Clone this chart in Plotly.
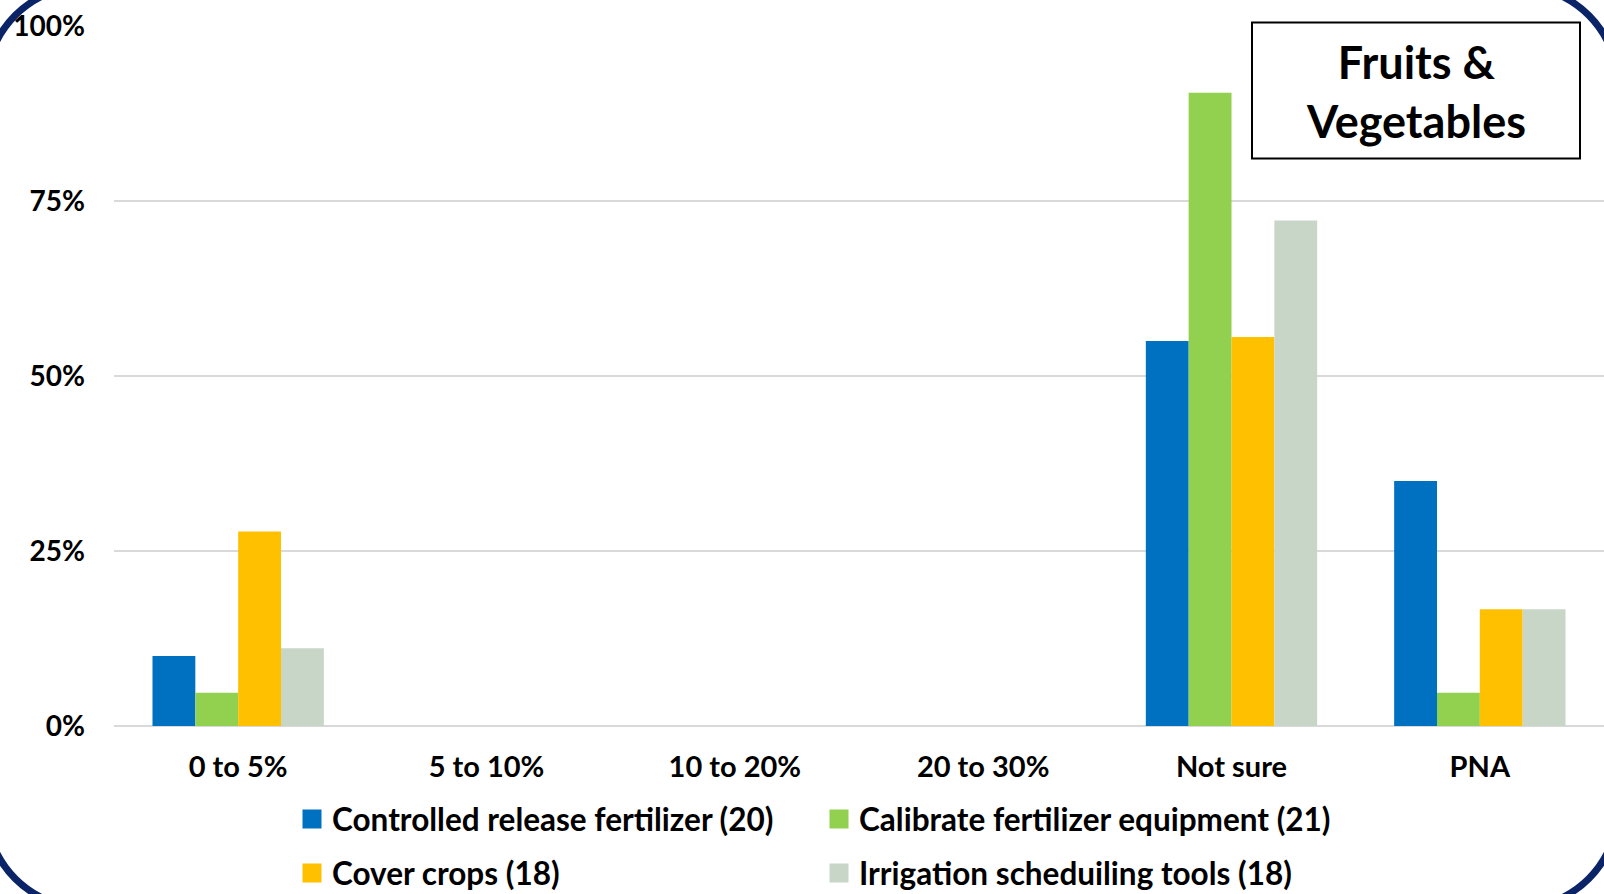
import plotly.graph_objects as go

# Share of respondents per expected-savings bracket, by practice
categories = ["0 to 5%", "5 to 10%", "10 to 20%", "20 to 30%", "Not sure", "PNA"]

controlled_release = [10.0, 0, 0, 0, 55.0, 35.0]
calibrate_equipment = [4.76, 0, 0, 0, 90.48, 4.76]
cover_crops = [27.78, 0, 0, 0, 55.56, 16.67]
irrigation_tools = [11.11, 0, 0, 0, 72.22, 16.67]

series_names = [
    "Controlled release fertilizer (20)",
    "Calibrate fertilizer equipment (21)",
    "Cover crops (18)",
    "Irrigation scheduiling tools (18)",
]
series_values = [controlled_release, calibrate_equipment, cover_crops, irrigation_tools]
series_colors = ["#0070C0", "#92D050", "#FFC000", "#C8D6C8"]
legend_ids = ["legend", "legend", "legend2", "legend2"]

y_tickvals = [0, 25, 50, 75, 100]
y_ticktext = ["0%", "25%", "50%", "75%", "100%"]

W, H = 1604, 894
ML, MR, MT, MB = 114, 0, 26, 168
PW, PH = W - ML - MR, H - MT - MB

FONT = "Lato"


def px_x(x):
    return (x - ML) / PW


def px_y(y):
    return (H - MB - y) / PH


fig = go.Figure()

for name, vals, color in zip(series_names, series_values, series_colors):
    fig.add_trace(go.Bar(
        x=categories, y=vals, name=name,
        marker=dict(color=color, line=dict(width=0)),
        showlegend=False,
    ))

# Legend swatches (larger squares than the default bar swatch)
for name, color, lg in zip(series_names, series_colors, legend_ids):
    fig.add_trace(go.Scatter(
        x=[None], y=[None], name=name, mode="markers",
        marker=dict(symbol="square", size=16, color=color,
                    line=dict(color=color, width=3)),
        legend=lg, showlegend=True,
    ))

# Rounded frame around the slide
x0, y0, x1, y1, R = -14, -14, W + 14, H + 14, 100
k = 0.5523 * R


def P(x, y):
    return f"{px_x(x):.5f},{px_y(y):.5f}"


frame_path = (
    f"M{P(x0 + R, y0)} L{P(x1 - R, y0)} "
    f"C{P(x1 - R + k, y0)} {P(x1, y0 + R - k)} {P(x1, y0 + R)} "
    f"L{P(x1, y1 - R)} "
    f"C{P(x1, y1 - R + k)} {P(x1 - R + k, y1)} {P(x1 - R, y1)} "
    f"L{P(x0 + R, y1)} "
    f"C{P(x0 + R - k, y1)} {P(x0, y1 - R + k)} {P(x0, y1 - R)} "
    f"L{P(x0, y0 + R)} "
    f"C{P(x0, y0 + R - k)} {P(x0 + R - k, y0)} {P(x0 + R, y0)} Z"
)

shapes = [
    dict(type="rect", xref="paper", yref="paper",
         x0=px_x(1252), x1=px_x(1580), y0=px_y(158.5), y1=px_y(22.5),
         fillcolor="white", line=dict(color="black", width=2), layer="above"),
    dict(type="path", xref="paper", yref="paper", path=frame_path,
         line=dict(color="#0B2468", width=7), layer="above"),
]

annotations = [
    dict(xref="paper", yref="paper", x=px_x(1416), y=px_y(91),
         text="Fruits &<br>Vegetables", showarrow=False,
         xanchor="center", yanchor="middle",
         font=dict(family=FONT, size=45, color="black", weight="bold")),
]

legend_common = dict(
    orientation="h", xanchor="left", yanchor="middle",
    xref="container", yref="container",
    font=dict(family=FONT, size=31.5, color="black", weight="bold"),
    bgcolor="rgba(0,0,0,0)", entrywidth=482, entrywidthmode="pixels",
    itemclick=False, itemdoubleclick=False,
)

fig.update_layout(
    width=W, height=H,
    margin=dict(l=ML, r=MR, t=MT, b=MB, autoexpand=False),
    paper_bgcolor="white", plot_bgcolor="white",
    barmode="group", bargap=0.31, bargroupgap=0,
    font=dict(family=FONT, size=29, color="black", weight="bold"),
    shapes=shapes, annotations=annotations,
    legend=dict(x=292 / W, y=1 - 819 / H, **legend_common),
    legend2=dict(x=292 / W, y=1 - 873 / H, **legend_common),
    xaxis=dict(
        type="category", categoryorder="array", categoryarray=categories,
        showgrid=False, showline=False, ticks="",
        tickfont=dict(family=FONT, size=29, color="black", weight="bold"),
        ticklabelstandoff=21,
    ),
    yaxis=dict(
        range=[0, 100], tickvals=y_tickvals, ticktext=y_ticktext,
        showgrid=True, gridcolor="#D9D9D9", gridwidth=2,
        zeroline=True, zerolinecolor="#D9D9D9", zerolinewidth=2,
        showline=False, ticks="",
        tickfont=dict(family=FONT, size=28, color="black", weight="bold"),
        ticklabelstandoff=28,
    ),
)

fig.write_html("out.html")
